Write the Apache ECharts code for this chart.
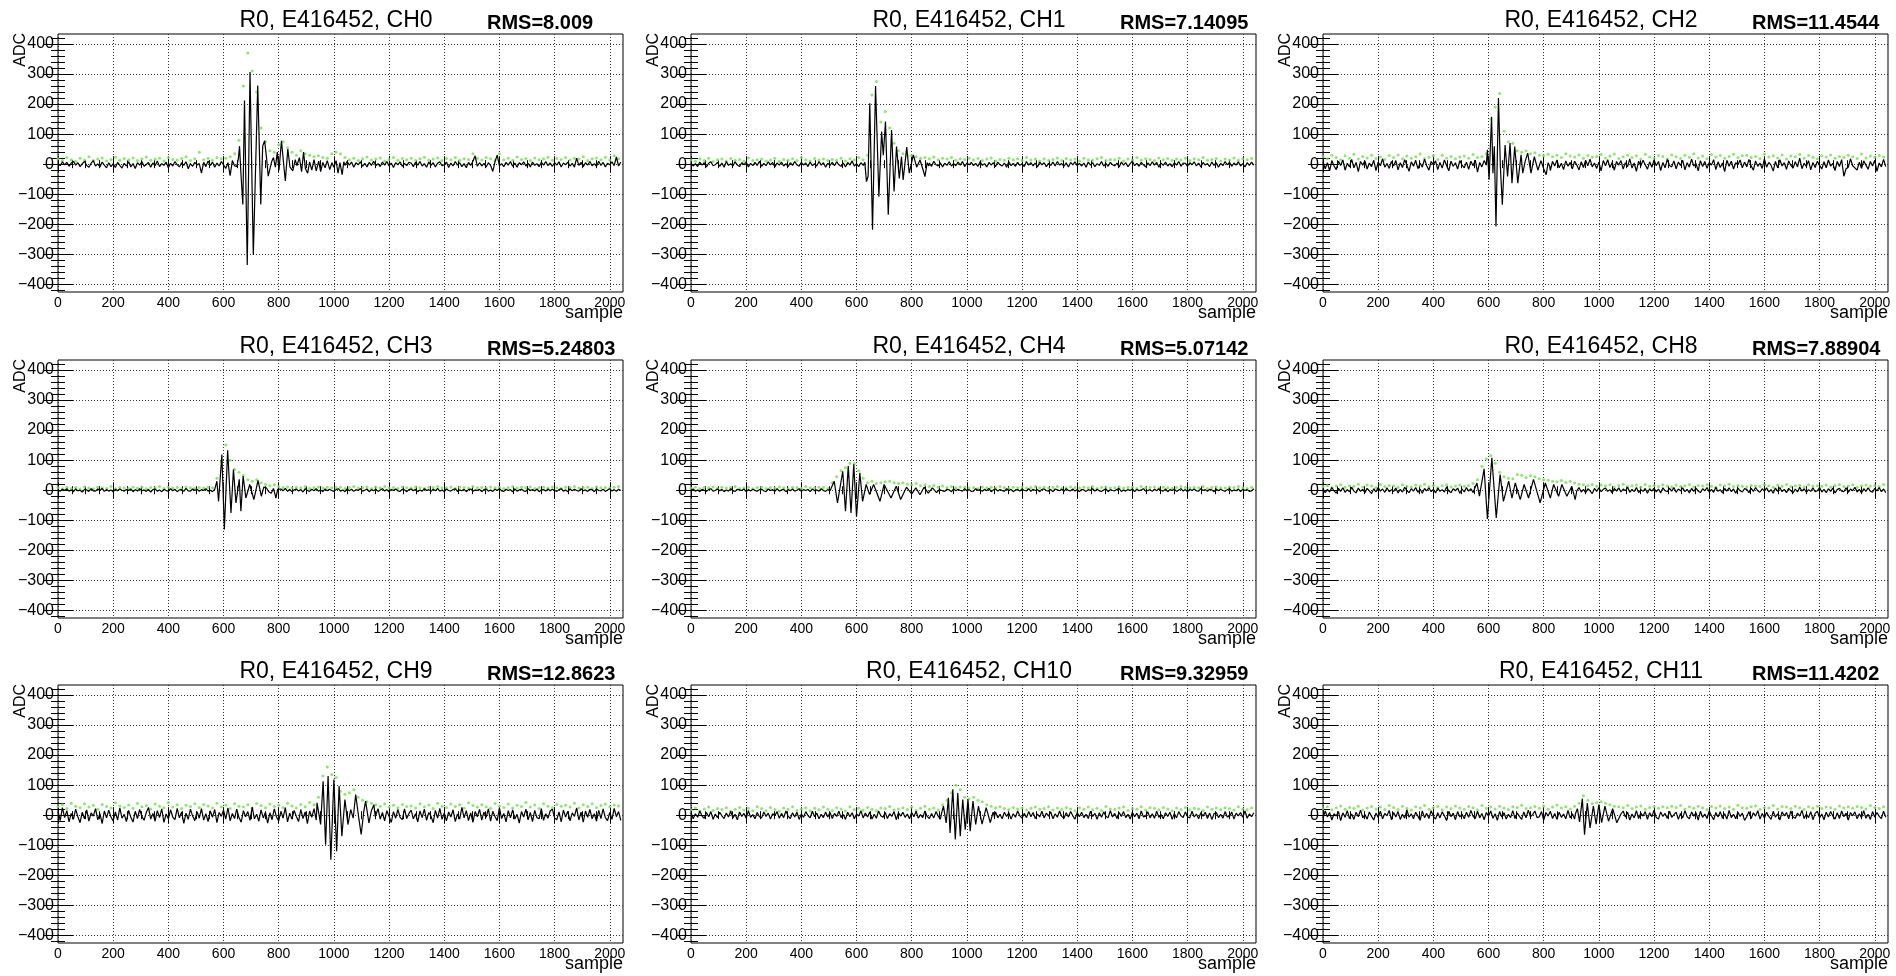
<!DOCTYPE html>
<html>
<head>
<meta charset="utf-8">
<title>R0, E416452 waveforms</title>
<script src="https://cdn.jsdelivr.net/npm/echarts@6.0.0/dist/echarts.min.js"></script>
<style>
  html, body { margin: 0; padding: 0; background: #fff; }
  #chart { width: 1896px; height: 976px; }
</style>
</head>
<body>
<div id="chart"></div>
<script>
// event / channel labels
const titlePrefix = 'R0, E416452, ';
const channels = ['CH0', 'CH1', 'CH2', 'CH3', 'CH4', 'CH8', 'CH9', 'CH10', 'CH11'];
const rmsValues = ['8.009', '7.14095', '11.4544', '5.24803', '5.07142', '7.88904', '12.8623', '9.32959', '11.4202'];

// tick labels
const xTicks = [0, 200, 400, 600, 800, 1000, 1200, 1400, 1600, 1800, 2000];
const yTicks = [-400, -300, -200, -100, 0, 100, 200, 300, 400];

// baseline, one value every 8 samples (black trace)
const BASE_STEP = 8;
const base0 = [
  3,-5,8,-2,6,-7,4,10,-3,5,-8,2,9,-4,-10,3,12,-6,1,-9,7,-3,-12,5,-8,2,-11,6,-4,-13,3,-6,
  8,-9,2,-14,5,-3,9,-7,-1,6,-10,4,-5,11,-8,2,-4,7,-12,3,-6,9,-2,-9,5,-4,8,-15,2,-7,6,-3,
  2,-30,6,-8,11,-4,7,-10,4,-6,9,-2,-14,5,-38,12,-5,3,-20,8,-12,15,-45,10,-8,6,-3,9,-5,4,-7,2,
  5,-6,4,-3,8,-9,2,-5,7,-4,3,-8,6,-2,-7,4,9,-5,2,-6,3,-10,5,-3,8,-7,4,-2,6,-9,3,-5,
  -8,4,-6,9,-3,7,-10,5,-2,8,-7,3,-9,6,-4,10,-5,2,-8,7,-3,9,-6,4,-11,5,-2,8,-7,3,-5,6,
  4,-8,6,-3,9,-6,2,-10,7,-4,5,-9,3,8,-5,-2,7,-11,4,-6,9,-3,5,-8,2,-12,6,-4,10,28,-7,5,
  -6,3,-9,5,-4,-24,8,30,-5,2,-8,6,-3,9,-7,4,-10,5,-2,8,-6,3,-9,7,-4,2,-8,6,-3,9,-5,4,
  -7,5,-3,8,-9,4,-2,7,-6,3,-10,20,-4,6,-8,5,-3,9,-5,2,-7,10,-4,6,-9,3,-2,8,-5,24,-6,7
];
const base1 = [
  4,-6,2,-8,7,-3,5,-9,3,8,-5,-2,6,-7,4,-10,9,-4,2,-6,8,-3,-8,5,-2,7,-9,3,-5,6,-4,10,
  -7,3,-5,8,-2,6,-9,4,-3,7,-6,2,-8,5,-4,9,-2,-7,6,-3,4,-8,7,-5,2,-6,9,-3,5,-10,3,-4,
  6,-5,8,-2,-7,4,-9,6,-3,11,-6,2,-8,5,-4,9,-12,7,-5,3,-6,8,-3,5,-7,4,-2,6,-5,3,-8,2,
  5,-6,3,-9,7,-4,2,-8,6,-3,9,-5,4,-7,10,-2,-6,5,-9,3,-4,8,-6,2,-5,7,-3,9,-8,4,-2,6,
  -5,3,-7,8,-4,2,-9,6,-3,5,-8,7,-2,-6,4,-10,8,-5,3,-7,6,-4,2,-8,9,-3,5,-6,4,-9,7,-2,
  5,-8,3,-4,7,-6,9,-3,2,-7,5,-9,6,-2,8,-5,3,-6,4,-10,7,-3,5,-8,2,-4,9,-6,3,-7,6,-2,
  -6,4,-9,7,-3,5,-8,2,10,-5,3,-7,6,-2,-9,4,-5,8,-3,6,-10,3,-4,7,-6,2,-8,5,-3,9,-7,4,
  3,-7,5,-2,8,-6,4,-9,6,-3,2,-8,7,-4,5,-10,3,-5,9,-2,6,-7,4,-3,8,-6,2,-9,5,-4,7,-3
];
const base2 = [
  8,-15,5,-22,12,-6,-18,10,-4,14,-20,3,-9,16,-12,6,-25,9,-3,11,-16,4,-8,13,-21,7,-5,18,-10,2,-14,9,
  -6,12,-19,5,-11,15,-3,-24,8,-7,13,-15,4,-10,17,-5,-20,9,-2,11,-18,6,-13,14,-4,-22,10,-7,5,-16,12,-3,
  -12,7,-17,10,-5,14,-26,6,-9,12,-3,-18,8,-14,5,-28,11,-6,9,-20,4,-11,15,-7,3,-16,10,-5,12,-9,6,-13,
  -8,13,-15,5,-10,16,-4,-21,9,-6,14,-12,3,-18,11,-7,6,-15,10,-3,-19,8,-11,13,-5,17,-9,4,-14,7,-22,12,
  -5,15,-11,6,-20,9,-3,12,-16,5,-8,18,-13,4,-24,10,-6,13,-2,-17,8,-10,14,-5,9,-21,6,-12,16,-4,-9,11,
  -15,7,-4,13,-19,5,-10,17,-6,3,-22,12,-8,9,-14,6,-3,15,-18,8,-11,4,-25,13,-7,10,-16,5,-2,14,-12,7,
  -9,16,-5,-20,11,-7,4,-14,18,-10,6,-3,-23,9,-12,15,-6,5,-17,11,-4,-13,8,-9,20,-15,3,-7,12,-19,6,-11,
  10,-4,-16,8,-12,14,-6,3,-21,9,-8,15,-40,-15,-10,18,-5,-12,-20,7,-14,11,-3,-17,9,-6,13,-24,4,-9,16,-8
];
const base3 = [
  2,-4,3,-1,5,-3,1,-5,4,-2,0,-6,3,1,-4,5,-2,-3,4,-1,6,-4,2,-3,1,-5,3,-2,4,0,-3,2,
  -1,4,-5,2,-3,5,-2,1,-4,3,-6,2,4,-3,1,-5,3,-1,-4,5,-2,3,-5,1,2,-4,6,-2,-3,4,-1,3,
  -4,2,-1,5,-3,0,-5,3,4,-2,1,-4,3,-1,5,-3,2,-5,4,-2,1,-3,5,-1,-4,3,-2,4,-5,2,-1,3,
  -8,5,-3,2,-6,4,-2,6,-4,3,-5,1,4,-3,2,-6,5,-1,-4,3,-2,5,-3,1,-5,4,-2,3,-1,-4,2,5,
  -3,1,-5,4,-2,3,-4,2,-1,5,-3,0,4,-5,2,-2,3,-4,1,5,-3,2,-5,3,-1,4,-2,-4,3,1,-5,2,
  4,-2,3,-5,1,-3,5,-1,2,-4,3,-2,6,-3,1,-5,4,-1,-3,2,5,-4,1,-2,3,-5,2,4,-3,1,-1,3,
  -5,2,4,-3,1,-4,3,-1,5,-2,-4,3,-1,2,-5,4,-3,1,3,-2,-4,5,-1,2,-3,4,-5,1,2,-3,4,-2,
  3,-1,-4,2,5,-3,1,-5,4,-2,3,-1,-3,5,-2,1,-4,3,2,-5,4,-1,-2,3,-4,1,5,-3,2,-4,3,-1
];
const base4 = [
  -2,4,-3,1,-5,3,0,-4,2,5,-3,-1,4,-2,3,-5,1,-3,5,-2,-4,3,1,-1,4,-5,2,-3,3,0,-4,2,
  3,-2,-5,4,-1,2,-4,5,-3,1,3,-5,2,-2,4,-3,0,5,-4,2,-1,3,-5,4,-2,1,-3,5,-1,-4,2,-2,
  1,-3,4,-2,5,-4,2,-1,3,-5,4,-2,1,-3,5,-1,-4,2,3,-2,-5,4,-1,3,-3,2,-4,5,-2,1,-3,4,
  2,-4,3,-1,5,-3,1,-2,4,-5,2,-1,3,6,-4,2,-3,5,-2,-4,3,1,-5,4,-2,3,-1,-3,5,-2,2,-4,
  -3,5,-1,2,-4,3,-2,6,-5,1,4,-3,2,-1,-4,5,-2,3,-5,1,2,-3,4,-1,-2,5,-4,3,-1,2,-5,3,
  4,-1,-3,2,-5,4,1,-2,3,-4,5,-1,-2,4,-3,2,-5,3,1,-4,2,-1,5,-3,3,-2,-4,1,4,-5,2,-1,
  -2,3,5,-4,1,-3,2,-1,4,-5,3,-2,1,5,-3,-1,2,-4,3,-2,5,-1,-3,4,-5,2,-1,3,-4,1,5,-3,
  2,-5,3,-1,4,-2,-3,5,-1,2,-4,3,1,-5,4,-2,3,-1,-4,2,5,-3,1,-2,4,-5,3,-1,2,-4,-2,5
];
const base8 = [
  5,-8,3,-6,9,-2,-10,6,-4,8,-7,2,-5,10,-3,-9,7,-4,3,-8,6,-2,-11,5,-6,9,-3,4,-7,8,-5,2,
  -4,7,-9,3,-6,10,-2,-8,5,-3,9,-7,4,-10,6,-2,8,-5,3,-9,7,-4,2,-6,11,-3,-8,5,-2,7,-10,4,
  -6,9,-3,5,-8,2,-5,7,-4,6,-9,3,-2,8,-6,4,-10,5,-3,7,-8,2,-5,9,-4,6,-7,3,-2,8,-6,5,
  -3,7,-8,4,-5,9,-2,-7,6,-4,3,-9,8,-3,5,-6,2,-10,7,-4,9,-6,3,-8,5,-2,-11,6,-4,8,-5,3,
  7,-4,2,-9,6,-3,8,-6,4,-2,10,-7,3,-5,9,-8,2,-4,6,-10,5,-3,7,-6,4,-9,8,-2,-5,6,-3,9,
  -7,4,-2,8,-5,3,-9,6,-4,7,-3,-8,5,-2,9,-6,3,-7,10,-4,2,-9,6,-3,8,-5,4,-10,7,-2,-6,5,
  3,-8,6,-4,9,-2,-7,5,-3,8,-6,2,-10,7,-4,9,-5,3,-8,6,-2,-9,4,-6,10,-3,5,-7,2,-4,8,-5,
  -2,9,-6,3,-8,5,-4,7,-9,2,6,-3,-5,8,-7,4,-2,10,-6,3,-9,5,-4,8,-3,-7,6,-2,9,-5,4,-8
];
const base9 = [
  12,-18,25,-8,15,-22,6,-14,20,-5,-25,10,-12,18,-20,8,-3,22,-15,5,-28,14,-9,17,-6,-19,11,-16,24,-10,3,-21,
  16,-7,-23,13,-11,19,-4,-17,9,26,-13,6,-20,15,-8,21,-24,4,-12,18,-6,-15,23,-9,11,-27,7,-14,20,-3,-18,12,
  -10,22,-16,5,-21,14,-7,19,-25,9,-4,17,-13,24,-19,6,-11,20,-8,-23,15,-5,12,-17,27,-12,3,-20,18,-9,10,-26,
  8,-15,21,-6,-19,13,-10,25,-22,7,-13,16,-4,-21,19,-11,11,-28,14,-7,22,-16,5,-12,18,-24,9,-5,15,-20,12,-8,
  -14,20,-9,16,-23,7,-11,18,-5,-20,13,-16,24,-8,10,-18,-6,22,-13,9,-19,15,-4,-24,12,-10,19,-7,-15,21,-11,6,
  17,-12,5,-22,14,-8,20,-17,9,-3,-25,16,-10,23,-14,7,-19,11,-6,18,-21,4,-13,26,-9,15,-18,8,-24,12,-5,19,
  -16,10,-7,21,-20,13,-4,-18,24,-11,6,-22,15,-9,18,-13,3,-26,12,-6,20,-15,9,-21,16,-8,-12,22,-17,5,-10,14,
  20,-9,-15,11,-22,17,-6,13,-19,8,-4,24,-16,10,-23,14,-7,19,-12,5,-20,16,-11,21,-8,-18,9,-14,23,-5,12,-17
];
const base10 = [
  8,-12,5,-7,14,-3,-10,9,-5,12,-14,4,-8,10,-2,-11,7,-6,13,-9,3,-15,11,-4,6,-10,15,-7,2,-12,9,-5,
  -9,11,-4,7,-13,5,-2,12,-10,6,-8,14,-3,-11,8,-6,10,-14,4,-7,12,-1,-9,13,-5,7,-12,3,-8,11,-6,9,
  -11,6,-4,13,-8,2,-14,10,-5,8,-12,4,-3,15,-9,7,-6,11,-13,3,-10,14,-2,-7,9,-11,5,-4,12,-15,8,-3,
  10,-7,4,-12,9,-5,13,-10,2,-8,14,-4,-11,6,-9,12,-3,-13,7,-6,11,-10,5,-2,13,-9,6,-12,8,-4,10,-7,
  -5,12,-8,4,-11,9,-3,-14,7,-6,11,-9,3,-12,10,-4,8,-13,5,-7,14,-2,-10,6,-8,12,-5,9,-11,4,-6,13,
  -9,7,-3,11,-12,5,-7,14,-4,-10,8,-6,12,-2,-13,9,-5,10,-8,3,-11,13,-4,6,-14,8,-7,11,-3,-9,15,-6,
  6,-11,9,-4,12,-8,3,-13,10,-5,7,-12,14,-6,-3,11,-9,5,-10,13,-7,2,-12,8,-4,10,-14,6,-9,12,-2,-8,
  11,-5,-9,13,-6,4,-12,8,-3,10,-11,7,-14,5,9,-8,3,-10,12,-6,-4,11,-13,7,-2,9,-7,14,-10,4,-5,8
];
const base11 = [
  -10,14,-6,9,-16,5,-3,12,-18,8,-7,15,-11,4,-14,10,-5,17,-9,2,-13,11,-4,-16,7,-8,13,-12,6,-2,16,-15,
  9,-6,12,-14,3,-10,18,-7,5,-12,10,-3,-17,14,-8,6,-11,15,-4,-13,8,-9,11,-2,-18,13,-5,7,-15,12,-6,4,
  -12,10,-7,16,-4,-11,13,-9,6,-15,9,-3,14,-10,5,-17,12,-6,8,-13,3,-8,15,-11,7,-4,-14,11,-9,17,-5,2,
  14,-8,-5,12,-16,9,-3,13,-11,6,-14,10,-7,4,-12,16,-9,5,-13,11,-6,8,-15,3,12,-10,7,-4,14,-12,6,-9,
  -7,13,-10,5,-15,9,-2,-12,14,-6,10,-16,4,-9,15,-11,7,-3,12,-14,8,-5,17,-8,-13,11,-4,6,-10,13,-7,2,
  10,-14,6,-9,15,-5,-12,11,-3,8,-16,13,-7,4,-11,14,-2,-15,9,-6,12,-10,5,-13,16,-8,3,-12,10,-4,7,-17,
  -5,12,-11,8,-3,15,-13,6,-9,10,-4,-14,13,-7,5,-16,11,-2,9,-12,14,-6,-10,7,-3,16,-11,4,-8,12,-15,6,
  13,-9,4,-15,10,-6,12,-3,-13,8,-11,14,-5,7,-16,9,-2,11,-12,5,-8,15,-10,3,-14,12,-6,9,-4,-11,13,-7
];

// pulse turning points [sample, ADC]
const pulse0 = [[648,-8],[654,20],[658,60],[663,-30],[670,-134],[676,212],[686,-335],[696,307],[708,-302],[724,262],
  [735,-134],[742,60],[749,78],[756,20],[762,-40],[769,-39],[775,10],[781,22],[788,-10],[795,40],[801,-20],[810,78],
  [817,10],[824,-56],[833,50],[841,-10],[851,-22],[860,15],[866,-5],[875,22],[883,-25],[890,40],[897,-15],[905,-30],
  [912,8],[920,-20],[928,15],[936,-22],[945,10],[952,-25],[960,6],[968,-12],[976,12],[985,-18],[993,5],[1000,-10],
  [1008,12],[1015,-30],[1022,5],[1030,-35],[1036,8],[1040,-4]];
const pulse1 = [[630,6],[636,-58],[642,-40],[648,203],[658,-218],[669,260],[681,-108],[691,109],[697,30],[705,142],
  [715,-168],[727,114],[736,-91],[745,59],[755,-47],[763,25],[769,-52],[782,57],[791,-30],[806,31],[818,-10],[830,14],
  [840,-15],[848,-41],[856,5],[862,-6]];
const pulse2 = [[596,48],[602,-52],[611,158],[616,-30],[621,60],[627,-207],[636,220],[643,-10],[650,-135],[660,64],
  [669,-41],[678,70],[685,-63],[695,59],[706,-63],[718,31],[724,-30],[733,10],[742,37],[754,-30],[766,25],[779,-20],
  [790,12],[800,-15],[809,-35],[816,5],[822,-8]];
const pulse3 = [[572,-2],[576,30],[582,-37],[594,119],[603,-131],[615,133],[627,-76],[636,69],[645,-42],[657,36],
  [663,-70],[671,47],[681,-26],[695,19],[710,-31],[725,33],[737,-20],[746,10],[755,8],[764,-5],[773,-10],[781,6],
  [790,-26],[796,3],[800,-3]];
const pulse4 = [[505,0],[519,30],[531,-42],[550,63],[560,-70],[570,80],[580,-76],[590,86],[600,-87],[612,58],
  [622,-37],[635,19],[647,-14],[662,19],[685,-37],[700,19],[725,-26],[744,13],[760,-31],[781,10],[800,-12],[815,8],
  [830,-15],[845,10],[860,-10],[875,8],[890,-8],[900,2]];
const pulse8 = [[546,-4],[558,24],[567,-20],[584,71],[596,-96],[612,108],[628,-92],[642,52],[654,-37],[673,30],
  [685,-26],[697,24],[715,-31],[729,19],[745,-26],[763,36],[787,-42],[806,24],[824,-26],[836,19],[854,-20],[866,19],
  [884,-20],[902,13],[914,-31],[920,-2]];
const pulse9 = [[939,41],[952,-31],[961,113],[970,-98],[979,130],[989,-148],[1000,119],[1010,-120],[1019,97],
  [1029,-70],[1040,52],[1051,-31],[1061,19],[1070,-10],[1079,69],[1091,-15],[1099,-64],[1108,10],[1115,47],
  [1127,-26],[1136,15],[1145,35],[1150,-5]];
const pulse10 = [[908,5],[915,30],[925,-26],[933,58],[939,-59],[949,86],[958,-81],[967,74],[976,-70],[985,52],
  [994,-48],[1004,52],[1012,-53],[1022,47],[1032,-31],[1042,30],[1055,-30],[1070,25],[1085,-25],[1095,10],[1100,-5]];
const pulse11 = [[915,5],[922,22],[930,-22],[940,55],[948,-65],[958,40],[968,-42],[980,30],[990,-30],[1000,35],
  [1010,-25],[1022,30],[1035,-20],[1050,22],[1065,-25],[1080,4]];

// green points, one value every 16 samples
const GREEN_STEP = 16;
const green0 = [
  18,12,22,15,10,20,14,25,12,17,21,11,16,23,13,19, 15,21,12,18,24,13,17,20,11,22,16,14,19,25,12,18,
  40,15,20,13,22,18,20,25,35,80,260,370,310,240,120,75, 45,40,65,75,55,40,30,45,35,30,25,28,22,20,35,40,
  35,22,15,20,12,18,24,14,17,21,11,16,22,13,19,15, 20,12,18,23,14,17,21,12,19,15,22,13,18,16,35,20,
  14,22,18,12,35,15,20,13,24,16,19,12,21,15,18,23, 13,19,16,22,14,20,17,25,12,18,21,15,23,14,28,18
];
const green1 = [
  14,10,18,12,20,9,15,17,11,19,13,16,10,21,12,15, 17,11,14,20,10,16,13,18,12,22,15,11,19,14,17,12,
  16,13,20,11,18,14,22,15,30,230,275,140,175,120,70,45, 35,30,28,25,20,22,18,24,15,20,17,22,13,18,16,20,
  14,19,12,17,21,11,16,13,20,15,18,12,22,14,17,10, 18,13,16,21,12,19,14,17,11,20,15,13,18,22,12,16,
  15,20,11,17,14,22,13,18,16,12,21,15,19,13,17,14, 20,12,18,15,22,13,16,19,11,17,14,21,13,18,15,19
];
const green2 = [
  25,18,30,22,15,28,20,33,17,26,21,30,19,24,16,29, 22,31,18,27,20,25,34,19,23,28,16,30,21,26,18,24,
  27,20,32,22,26,35,150,190,235,110,75,70,45,40,45,35, 38,30,28,33,25,30,22,35,27,24,31,20,29,23,26,32,
  21,27,34,19,25,30,22,28,17,33,24,20,29,26,18,31, 25,19,30,23,35,21,27,18,32,24,29,20,26,33,22,28,
  30,22,26,19,34,24,28,21,31,17,27,25,33,20,29,23, 18,28,24,31,20,26,22,30,25,19,34,21,27,23,29,24
];
const green3 = [
  8,5,10,6,9,4,11,7,5,10,8,6,12,5,9,7, 6,10,7,11,5,9,8,12,6,10,7,9,5,11,8,6,
  9,7,10,8,40,95,150,100,70,60,50,35,30,35,25,20, 15,18,12,9,11,7,10,8,12,6,9,11,7,10,8,9,
  10,6,9,12,7,8,11,5,10,8,12,7,9,6,11,8, 7,11,8,6,10,9,12,7,8,11,6,10,9,7,12,8,
  9,7,11,8,10,6,9,12,7,10,8,11,6,9,10,7, 11,8,6,10,9,12,7,9,10,6,11,8,9,7,10,12
];
const green4 = [
  7,10,5,9,8,11,6,10,7,9,12,6,8,10,5,9, 10,6,9,7,11,8,5,10,9,6,12,8,7,10,9,6,
  25,45,65,75,90,88,65,40,25,30,22,25,28,30,25,22, 25,20,18,22,15,18,12,16,10,14,9,12,8,11,10,7,
  9,6,11,8,10,7,12,9,6,10,8,11,7,9,12,8, 10,7,9,12,6,8,11,9,7,10,8,12,6,9,11,7,
  8,11,7,9,10,6,12,8,9,11,7,10,8,6,9,12, 9,7,10,8,12,6,9,11,8,7,10,9,12,8,6,10
];
const green8 = [
  12,16,9,14,18,10,15,13,20,11,17,14,9,19,12,16, 15,10,18,13,11,17,14,20,12,16,9,15,18,11,14,17,
  13,16,22,35,80,105,115,90,60,45,40,38,52,50,42,48, 45,38,35,33,30,28,32,26,30,24,20,18,15,19,13,17,
  14,18,11,16,20,12,15,17,10,19,13,16,12,18,14,11, 17,12,15,19,11,16,14,18,13,10,17,15,20,12,16,13,
  11,16,14,12,18,15,10,17,13,19,12,15,16,11,18,14, 15,13,17,11,16,19,12,14,18,10,15,17,13,16,12,19
];
const green9 = [
  28,35,22,40,30,25,38,27,33,20,36,29,24,41,31,26, 34,23,39,28,32,21,37,30,25,42,27,35,22,33,29,38,
  26,36,31,24,40,28,34,22,38,30,27,35,23,39,32,25, 37,29,33,26,40,31,24,36,28,42,35,60,130,160,135,125,
  80,70,75,85,60,50,45,40,35,30,38,27,33,25,36,29, 31,24,38,28,34,22,40,30,26,37,29,35,23,41,32,27,
  35,28,23,39,31,26,37,24,33,29,42,27,34,22,38,30, 25,36,30,33,27,40,24,35,29,38,26,32,37,28,34,31
];
const green10 = [
  18,24,14,21,27,16,22,19,25,13,20,26,17,23,15,28, 22,15,26,19,13,24,20,28,16,21,25,14,23,18,27,20,
  16,25,21,14,28,19,23,17,26,20,15,24,22,29,18,21, 25,19,27,16,23,30,20,24,17,35,50,75,100,85,60,55,
  60,50,45,35,30,25,28,22,19,26,21,24,17,23,27,20, 22,28,17,24,19,26,21,15,25,20,27,18,23,16,29,21,
  19,24,27,16,22,20,28,17,25,23,18,26,21,15,24,19, 26,18,23,21,16,27,20,24,19,25,22,17,28,21,18,24
];
const green11 = [
  22,28,18,25,31,20,26,23,30,17,24,29,21,27,19,32, 26,19,30,23,17,28,24,32,20,25,29,18,27,22,31,24,
  20,29,25,18,32,23,27,21,30,24,19,28,26,33,22,25, 29,23,31,20,27,34,24,28,21,30,40,65,50,38,42,45,
  40,35,30,28,25,32,22,27,31,20,26,29,23,28,25,30, 26,32,21,28,23,30,25,19,29,24,31,22,27,20,33,25,
  23,28,31,20,26,24,32,21,29,27,22,30,25,19,28,23, 30,22,27,25,20,31,24,28,23,29,26,21,32,25,22,28
];

const bases = [base0, base1, base2, base3, base4, base8, base9, base10, base11];
const pulses = [pulse0, pulse1, pulse2, pulse3, pulse4, pulse8, pulse9, pulse10, pulse11];
const greens = [green0, green1, green2, green3, green4, green8, green9, green10, green11];

// minor ticks
const xMinor = [];
for (let v = 0; v <= 2000; v += 50) xMinor.push(v);
const yMinor = [];
for (let v = -420; v <= 420; v += 20) yMinor.push(v);

const FONT = '"Liberation Sans", Arial, Helvetica, sans-serif';
const colLeft = [58, 691, 1323];
const rowTop = [34, 360, 685];
const plotW = 565, plotH = 258;
const yMin = -425, yMax = 433;

function waveform(base, pulse) {
  const lo = pulse[0][0], hi = pulse[pulse.length - 1][0];
  const pts = [];
  base.forEach((v, i) => {
    const s = i * BASE_STEP;
    if (s < lo || s > hi) pts.push([s, v]);
  });
  pulse.forEach(p => pts.push(p));
  pts.sort((a, b) => a[0] - b[0]);
  return pts;
}

function fmt(v) {
  return v < 0 ? '\u2212' + (-v) : String(v);
}

function xAxis(g, pos, main, ticks, len) {
  return {
    type: 'value', gridIndex: g, position: pos, min: 0, max: 2048, interval: 200,
    axisLine: { show: false },
    axisTick: { show: true, inside: true, length: len, customValues: ticks, lineStyle: { color: '#000', width: 1 } },
    axisLabel: { show: main, customValues: xTicks, margin: 4, color: '#000', fontSize: 14, fontFamily: FONT, formatter: fmt },
    splitLine: { show: main, lineStyle: { color: '#333', width: 1, type: [1, 2] } }
  };
}

function yAxis(g, pos, main, ticks, len) {
  return {
    type: 'value', gridIndex: g, position: pos, min: yMin, max: yMax, splitNumber: 9,
    axisLine: { show: false },
    axisTick: { show: true, inside: true, length: len, customValues: ticks, lineStyle: { color: '#000', width: 1 } },
    axisLabel: { show: main, customValues: yTicks, margin: 4, color: '#000', fontSize: 16, fontFamily: FONT, formatter: fmt },
    splitLine: { show: main, lineStyle: { color: '#333', width: 1, type: [1, 2] } }
  };
}

const grids = [], xAxes = [], yAxes = [], series = [], texts = [];

channels.forEach((ch, k) => {
  const left = colLeft[k % 3];
  const top = rowTop[Math.floor(k / 3)];
  grids.push({ left: left, top: top, width: plotW, height: plotH, show: true,
    borderColor: '#000', borderWidth: 1, backgroundColor: 'transparent' });

  xAxes.push(xAxis(k, 'bottom', true, xTicks, 8));
  xAxes.push(xAxis(k, 'bottom', false, xMinor, 4));
  xAxes.push(xAxis(k, 'top', false, xTicks, 8));
  xAxes.push(xAxis(k, 'top', false, xMinor, 4));
  yAxes.push(yAxis(k, 'left', true, yTicks, 15));
  yAxes.push(yAxis(k, 'left', false, yMinor, 7));
  yAxes.push(yAxis(k, 'right', false, yTicks, 15));
  yAxes.push(yAxis(k, 'right', false, yMinor, 7));

  series.push({
    type: 'scatter', xAxisIndex: 4 * k, yAxisIndex: 4 * k,
    data: greens[k].map((v, i) => [i * GREEN_STEP, v]),
    symbolSize: 3, itemStyle: { color: '#72e04e' }, silent: true, z: 1
  });
  series.push({
    type: 'line', xAxisIndex: 4 * k, yAxisIndex: 4 * k,
    data: waveform(bases[k], pulses[k]),
    showSymbol: false, symbol: 'none', lineStyle: { color: '#000', width: 1.2 }, silent: true, z: 2
  });

  texts.push({ type: 'text', x: left + 278, y: top - 13,
    style: { text: titlePrefix + ch, font: '23px ' + FONT, fill: '#000',
      align: 'center', verticalAlign: 'middle', textAlign: 'center', textVerticalAlign: 'middle' } });
  texts.push({ type: 'text', x: left + 429, y: top - 11,
    style: { text: 'RMS=' + rmsValues[k], font: 'bold 20px ' + FONT, fill: '#000',
      align: 'left', verticalAlign: 'middle', textAlign: 'left', textVerticalAlign: 'middle' } });
  texts.push({ type: 'text', x: left + plotW, y: top + plotH + 21,
    style: { text: 'sample', font: '18px ' + FONT, fill: '#000',
      align: 'right', verticalAlign: 'middle', textAlign: 'right', textVerticalAlign: 'middle' } });
  texts.push({ type: 'text', x: left - 37, y: top - 1, rotation: Math.PI / 2,
    style: { text: 'ADC', font: '16px ' + FONT, fill: '#000',
      align: 'right', verticalAlign: 'middle', textAlign: 'right', textVerticalAlign: 'middle' } });
});

const chart = echarts.init(document.getElementById('chart'), null, { renderer: 'canvas' });
chart.setOption({
  animation: false,
  backgroundColor: '#fff',
  grid: grids,
  xAxis: xAxes,
  yAxis: yAxes,
  series: series,
  graphic: { elements: texts }
});
</script>
</body>
</html>
